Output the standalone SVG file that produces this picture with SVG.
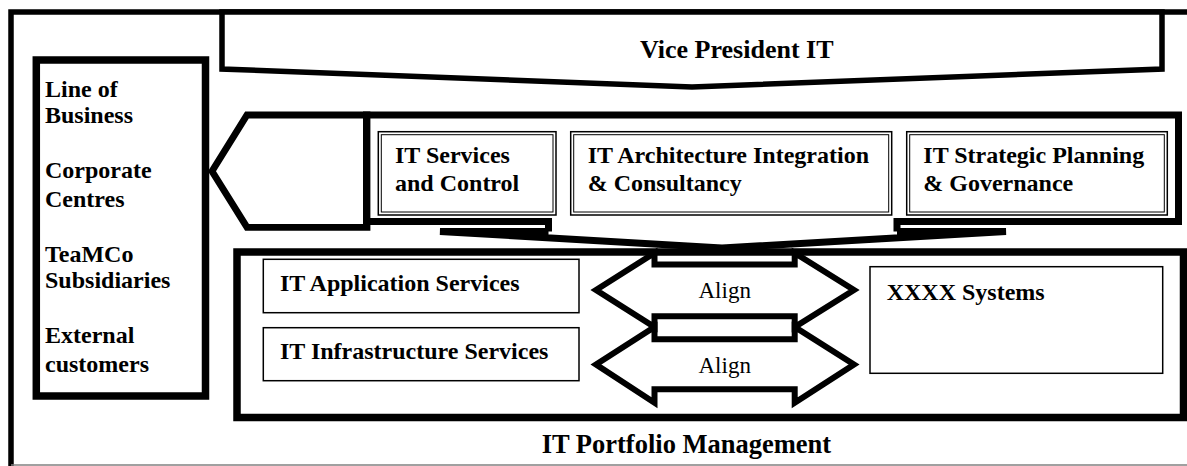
<svg xmlns="http://www.w3.org/2000/svg" width="1187" height="466" viewBox="0 0 1187 466">
<style>
.thick{fill:none;stroke:#000;stroke-width:7;stroke-linejoin:miter}
.wf{fill:#fff;stroke:#000}
.box{fill:#fff;stroke:#000;stroke-width:1.5}
.inner{fill:none;stroke:#000;stroke-width:1}
.b{font-family:"Liberation Serif","Times New Roman",serif;font-weight:bold;font-size:24px;fill:#000}
.big{font-size:26px}
.r{font-family:"Liberation Serif","Times New Roman",serif;font-size:23px;fill:#000}
</style>
<rect width="1187" height="466" fill="#fff"/>
<g id="frame">
  <path d="M11,466 V12 H1187" fill="none" stroke="#000" stroke-width="5.5"/>
  <line x1="11" y1="465" x2="1187" y2="465" stroke="#808080" stroke-width="1.5"/>
</g>
<g id="vp">
  <polygon points="222,12 1162,12 1162,69 692,87 222,69" class="wf" stroke-width="5.5"/>
  <text x="640" y="58" class="b big">Vice President IT</text>
</g>
<g id="customers">
  <rect x="36.3" y="60" width="169.2" height="336" class="wf" stroke-width="7.5"/>
  <text class="b" x="45" y="96.7">Line of</text>
  <text class="b" x="45" y="123.3">Business</text>
  <text class="b" x="45" y="178.3">Corporate</text>
  <text class="b" x="45" y="206.7">Centres</text>
  <text class="b" x="45" y="261.7">TeaMCo</text>
  <text class="b" x="45" y="288.3">Subsidiaries</text>
  <text class="b" x="45" y="343.3">External</text>
  <text class="b" x="45" y="371.7">customers</text>
</g>
<g id="connectors">
  <polygon id="to-customers" points="247,115 367,115 367,227.3 247,227.3 212,171.2" class="wf" stroke-width="6.8"/>
</g>
<g id="it-management">
  <path d="M548.5,231.5 V221.5 H366.5 V115 H1178.5 V221.5 H897 V231.5" class="thick"/>
</g>
<g id="services-control">
  <rect x="378.3" y="131.7" width="177.7" height="83.3" class="box"/>
  <rect x="381.3" y="134.7" width="171.7" height="77.3" class="inner"/>
  <text class="b" x="395" y="163.3">IT Services</text>
  <text class="b" x="395" y="191">and Control</text>
</g>
<g id="architecture">
  <rect x="570.7" y="131.7" width="321" height="83.3" class="box"/>
  <rect x="573.7" y="134.7" width="315" height="77.3" class="inner"/>
  <text class="b" x="587.7" y="163.3">IT Architecture Integration</text>
  <text class="b" x="587.7" y="191">&amp; Consultancy</text>
</g>
<g id="strategic">
  <rect x="906.7" y="131.7" width="260.6" height="83.3" class="box"/>
  <rect x="909.7" y="134.7" width="254.6" height="77.3" class="inner"/>
  <text class="b" x="923.3" y="163.3">IT Strategic Planning</text>
  <text class="b" x="923.3" y="191">&amp; Governance</text>
</g>
<g id="portfolio">
  <rect x="237" y="252" width="946.5" height="165.5" class="wf" stroke-width="7.5"/>
  <text class="b" x="541.7" y="453.3" style="font-size:26.5px">IT Portfolio Management</text>
</g>
<g id="funnel">
  <path d="M548.5,231.5 H440 L722,248 L1006,231.5 H897" fill="none" stroke="#000" stroke-width="7" stroke-linejoin="bevel"/>
</g>
<g id="app-services">
  <rect x="263.3" y="259.3" width="315.7" height="53.4" class="box"/>
  <text class="b" x="280" y="291">IT Application Services</text>
</g>
<g id="infra-services">
  <rect x="263.3" y="327.7" width="315.7" height="53" class="box"/>
  <text class="b" x="280" y="359.3">IT Infrastructure Services</text>
</g>
<g id="xxxx-systems">
  <rect x="870" y="266.7" width="292.7" height="106.6" class="box"/>
  <text class="b" x="886.7" y="300">XXXX Systems</text>
</g>
<g id="align-arrows">
  <g id="align-1">
    <path d="M596,290 L654.5,253 V264.5 H794.7 V253 L854,290 L794.7,327 V316.3 H654.5 V327 Z" class="wf" stroke-width="6"/>
    <text class="r" x="724.7" y="298.3" text-anchor="middle">Align</text>
  </g>
  <g id="align-2">
    <path d="M596,364.5 L654.5,327 V339.2 H794.7 V327 L854,364.5 L794.7,402.7 V389.2 H654.5 V402.7 Z" class="wf" stroke-width="6"/>
    <text class="r" x="724.7" y="373.3" text-anchor="middle">Align</text>
  </g>
</g>
</svg>
